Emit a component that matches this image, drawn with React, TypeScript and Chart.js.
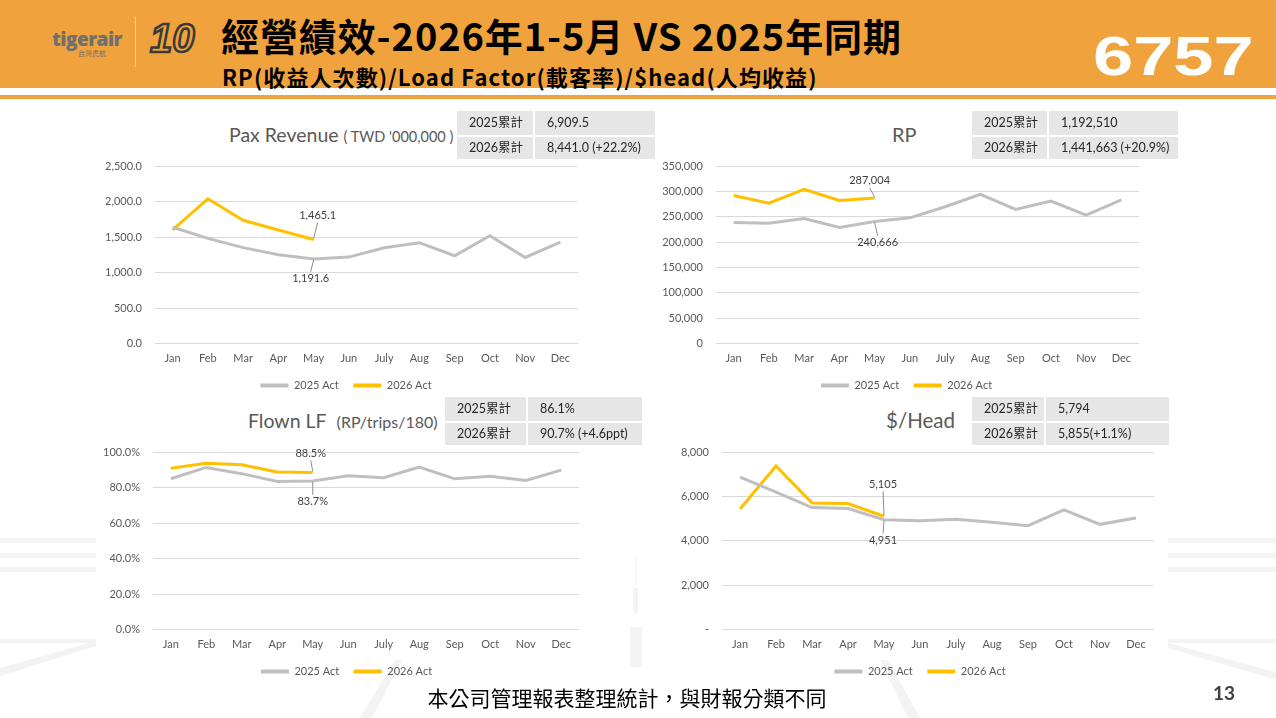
import React, { useEffect, useRef } from "react";
import { Chart, registerables } from "chart.js";

Chart.register(...registerables);

// ---------------- DATA ----------------
const months = ["Jan", "Feb", "Mar", "Apr", "May", "Jun", "July", "Aug", "Sep", "Oct", "Nov", "Dec"];
const seriesNames = ["2025 Act", "2026 Act"];

const paxRev2025 = [1637, 1481, 1350, 1250, 1191.6, 1217, 1349, 1420, 1236, 1519, 1212, 1429];
const paxRev2026 = [1600, 2038, 1736, 1599, 1465.1];

const rp2025 = [238600, 237300, 246500, 228700, 240666, 247800, 269600, 294000, 264300, 280800, 253100, 283400];
const rp2026 = [292000, 276800, 303900, 282100, 287004];

const lf2025 = [84.9, 91.3, 87.8, 83.4, 83.7, 86.6, 85.5, 91.5, 84.9, 86.3, 84.0, 89.8];
const lf2026 = [90.8, 93.6, 92.8, 88.7, 88.5];

const head2025 = [6868, 6189, 5494, 5449, 4951, 4906, 4966, 4830, 4679, 5389, 4740, 5026];
const head2026 = [5434, 7366, 5706, 5675, 5105];

const paxTable = [["2025累計", "6,909.5"], ["2026累計", "8,441.0 (+22.2%)"]];
const rpTable = [["2025累計", "1,192,510"], ["2026累計", "1,441,663 (+20.9%)"]];
const lfTable = [["2025累計", "86.1%"], ["2026累計", "90.7% (+4.6ppt)"]];
const headTable = [["2025累計", "5,794"], ["2026累計", "5,855(+1.1%)"]];

const headerTitle = "經營績效-2026年1-5月 VS 2025年同期";
const headerSubtitle = "RP(收益人次數)/Load Factor(載客率)/$head(人均收益)";
const stockCode = "6757";
const footNote = "本公司管理報表整理統計，與財報分類不同";
const pageNo = "13";

// ---------------- STYLE ----------------
const ORANGE = "#F0A33C";
const GRAY_LINE = "#BFBFBF";
const YELLOW = "#FFC000";
const TEXT_GRAY = "#595959";
const FONT = "Lato, 'Noto Sans CJK TC', sans-serif";

const fmtNum = (v: number, d = 0) =>
  v.toLocaleString("en-US", { minimumFractionDigits: d, maximumFractionDigits: d });

type LabelItem = { ds: number; idx: number; dx: number; dy: number };

type Spec = {
  left: number; top: number; width: number; height: number;
  padTop: number; padRight: number; yWidth: number; legendShift: number;
  d25: number[]; d26: number[];
  yMax: number; yStep: number;
  tickFmt: (v: number) => string;
  labelFmt: (v: number) => string;
  labels: LabelItem[];
};

const leaderPlugin = {
  id: "leaderLabels",
  afterLayout(chart: any, _args: any, opts: any) {
    const lg = chart.legend;
    if (lg && opts.legendShift) {
      lg.left += opts.legendShift;
      lg.right += opts.legendShift;
    }
  },
  afterDatasetsDraw(chart: any, _args: any, opts: any) {
    const items: LabelItem[] = opts.items || [];
    const ctx = chart.ctx;
    ctx.save();
    ctx.font = `11px ${FONT}`;
    ctx.fillStyle = "#404040";
    ctx.textAlign = "center";
    ctx.textBaseline = "middle";
    items.forEach((it) => {
      const meta = chart.getDatasetMeta(it.ds);
      const pt = meta.data[it.idx];
      if (!pt) return;
      const v = chart.data.datasets[it.ds].data[it.idx];
      const lx = pt.x + it.dx;
      const ly = pt.y + it.dy;
      const s = it.dy > 0 ? 1 : -1;
      ctx.strokeStyle = "#8C8C8C";
      ctx.lineWidth = 1;
      ctx.beginPath();
      ctx.moveTo(lx, ly - s * 7);
      ctx.lineTo(pt.x, pt.y + s * 1);
      ctx.stroke();
      ctx.fillText(opts.fmt(v), lx, ly);
    });
    ctx.restore();
  },
};

function LineChart({ spec }: { spec: Spec }) {
  const ref = useRef<HTMLCanvasElement>(null);
  useEffect(() => {
    if (!ref.current) return;
    const chart = new Chart(ref.current, {
      type: "line",
      data: {
        labels: months,
        datasets: [
          {
            label: seriesNames[0], data: spec.d25, borderColor: GRAY_LINE, backgroundColor: GRAY_LINE,
            borderWidth: 3, pointRadius: 0, tension: 0,
          },
          {
            label: seriesNames[1], data: spec.d26, borderColor: YELLOW, backgroundColor: YELLOW,
            borderWidth: 3, pointRadius: 0, tension: 0,
          },
        ],
      },
      options: {
        responsive: false,
        animation: false,
        layout: { padding: { top: spec.padTop, right: spec.padRight, left: 0, bottom: 0 } },
        scales: {
          x: {
            offset: true,
            grid: { display: false, drawTicks: false, offset: true },
            border: { display: false },
            ticks: { color: TEXT_GRAY, font: { family: FONT, size: 11 }, padding: 8, maxRotation: 0, autoSkip: false },
            afterFit: (s: any) => { s.height = 22; },
          },
          y: {
            min: 0, max: spec.yMax,
            grid: { color: "#D9D9D9", lineWidth: 1, drawTicks: false },
            border: { display: false },
            ticks: {
              stepSize: spec.yStep, color: TEXT_GRAY, font: { family: FONT, size: 11 }, padding: 13,
              callback: (v: any) => spec.tickFmt(Number(v)),
            },
            afterFit: (s: any) => { s.width = spec.yWidth; s.paddingTop = 0; s.paddingBottom = 0; },
          },
        },
        plugins: {
          legend: {
            position: "bottom",
            labels: {
              color: TEXT_GRAY, font: { family: FONT, size: 11 }, boxWidth: 28, boxHeight: 4, padding: 14.5,
              generateLabels: (c: any) =>
                (Chart.defaults.plugins.legend.labels.generateLabels as any)(c).map((l: any) => ({ ...l, lineWidth: 0 })),
            },
          },
          tooltip: { enabled: false },
          leaderLabels: { items: spec.labels, fmt: spec.labelFmt, legendShift: spec.legendShift },
        } as any,
      },
      plugins: [leaderPlugin as any],
    });
    return () => chart.destroy();
  }, []);
  return (
    <canvas
      ref={ref}
      width={spec.width}
      height={spec.height}
      style={{ position: "absolute", left: spec.left, top: spec.top, width: spec.width, height: spec.height }}
    />
  );
}

function StatTable({ rows, left, top, c1, c2 }: { rows: string[][]; left: number; top: number; c1: number; c2: number }) {
  return (
    <div style={{ position: "absolute", left, top }}>
      {rows.map((r, i) => (
        <div key={i} style={{ display: "flex", marginTop: i ? 2 : 0 }}>
          {r.map((t, j) => (
            <div
              key={j}
              style={{
                width: (j ? c2 : c1) - 12, height: i ? 22 : 24, lineHeight: (i ? 22 : 24) + "px",
                background: "#E7E6E6", marginLeft: j ? 2 : 0, paddingLeft: 12,
                fontFamily: FONT, fontSize: 12.5, color: "#262626", whiteSpace: "nowrap",
              }}
            >
              {t}
            </div>
          ))}
        </div>
      ))}
    </div>
  );
}

const specs: Spec[] = [
  {
    left: 100, top: 150, width: 490, height: 251, padTop: 16, padRight: 12, yWidth: 55, legendShift: 7,
    d25: paxRev2025, d26: paxRev2026, yMax: 2500, yStep: 500,
    tickFmt: (v) => fmtNum(v, 1), labelFmt: (v) => fmtNum(v, 1),
    labels: [{ ds: 1, idx: 4, dx: 4, dy: -24 }, { ds: 0, idx: 4, dx: -3, dy: 20 }],
  },
  {
    left: 650, top: 150, width: 500, height: 251, padTop: 16, padRight: 11, yWidth: 66, legendShift: 12,
    d25: rp2025, d26: rp2026, yMax: 350000, yStep: 50000,
    tickFmt: (v) => fmtNum(v), labelFmt: (v) => fmtNum(v),
    labels: [{ ds: 1, idx: 4, dx: -5, dy: -17 }, { ds: 0, idx: 4, dx: 3, dy: 21 }],
  },
  {
    left: 100, top: 436, width: 490, height: 251, padTop: 16, padRight: 11, yWidth: 53, legendShift: 7,
    d25: lf2025, d26: lf2026, yMax: 100, yStep: 20,
    tickFmt: (v) => v.toFixed(1) + "%", labelFmt: (v) => v.toFixed(1) + "%",
    labels: [{ ds: 1, idx: 4, dx: -2, dy: -19 }, { ds: 0, idx: 4, dx: 0, dy: 21 }],
  },
  {
    left: 650, top: 436, width: 540, height: 251, padTop: 16, padRight: 36, yWidth: 72, legendShift: 18,
    d25: head2025, d26: head2026, yMax: 8000, yStep: 2000,
    tickFmt: (v) => (v === 0 ? "-" : fmtNum(v)), labelFmt: (v) => fmtNum(v),
    labels: [{ ds: 1, idx: 4, dx: -1, dy: -32 }, { ds: 0, idx: 4, dx: -1, dy: 21 }],
  },
];

function Decor() {
  const c = "#F3F3F3";
  return (
    <svg width={1276} height={718} style={{ position: "absolute", left: 0, top: 0 }}>
      {[538, 553, 567].map((y) => (
        <g key={y}>
          <rect x={0} y={y} width={96} height={5} fill={c} />
          <rect x={1168} y={y} width={108} height={5} fill={c} />
        </g>
      ))}
      <rect x={0} y={639} width={96} height={4} fill={c} />
      <polygon points="0,668 96,641 96,646 0,676" fill={c} />
      <rect x={1168} y={639} width={108} height={4} fill={c} />
      <polygon points="1168,643 1276,672 1276,680 1168,648" fill={c} />
      <rect x={635} y={555} width={1.5} height={30} fill={c} />
      <rect x={633} y={588} width={5} height={25} fill={c} />
      <rect x={630} y={627} width={12} height={40} fill={c} />
      <polygon points="360,718 395,660 402,660 372,718" fill={c} />
      <polygon points="880,660 888,660 920,718 908,718" fill={c} />
    </svg>
  );
}

export default function App() {
  return (
    <div style={{ position: "absolute", left: 0, top: 0, width: 1276, height: 718, overflow: "hidden", background: "#fff" }}>
      <Decor />
      {/* header */}
      <div style={{ position: "absolute", left: 0, top: 0, width: 1276, height: 88, background: ORANGE }} />
      <div style={{ position: "absolute", left: 0, top: 95, width: 1276, height: 4, background: ORANGE }} />
      <div style={{ position: "absolute", left: 52, top: 26, fontFamily: "'Open Sans', sans-serif", fontWeight: 800, fontSize: 19, color: "#6F6F6F", letterSpacing: -0.5 }}>
        tigerair
      </div>
      <div style={{ position: "absolute", left: 78, top: 48, fontFamily: "'Noto Sans CJK TC'", fontSize: 7, color: "#6F6F6F" }}>台灣虎航</div>
      <div style={{ position: "absolute", left: 135, top: 17, width: 1, height: 50, background: "#F7D3A0" }} />
      <div style={{ position: "absolute", left: 150, top: 16, fontFamily: "'Liberation Sans', sans-serif", fontStyle: "italic", fontWeight: 900, fontSize: 40, color: "transparent", WebkitTextStroke: "2.5px #3A3A3A" } as any}>
        10
      </div>
      <div style={{ position: "absolute", left: 221, top: 8, fontFamily: "'Noto Sans CJK TC'", fontWeight: 700, fontSize: 38, letterSpacing: 0.9, color: "#000", whiteSpace: "nowrap", lineHeight: "54px" }}>
        {headerTitle}
      </div>
      <div style={{ position: "absolute", left: 222, top: 60, fontFamily: "'Noto Sans CJK TC'", fontWeight: 700, fontSize: 22, letterSpacing: 1.1, color: "#000", whiteSpace: "nowrap", lineHeight: "32px" }}>
        {headerSubtitle}
      </div>
      <div style={{ position: "absolute", left: 1093, top: 18, width: 124, fontFamily: "'Liberation Sans', Arial, sans-serif", fontWeight: 700, fontSize: 56, color: "#fff", lineHeight: "76px", transform: "scaleX(1.29)", transformOrigin: "left center" }}>
        {stockCode}
      </div>

      {/* titles */}
      <div style={{ position: "absolute", left: 229, top: 122, fontFamily: FONT, color: TEXT_GRAY, whiteSpace: "nowrap", lineHeight: "26px" }}>
        <span style={{ fontSize: 19.5 }}>Pax Revenue</span>
        <span style={{ fontSize: 14.5, marginLeft: 5 }}>( TWD '000,000 )</span>
      </div>
      <div style={{ position: "absolute", left: 892, top: 121, fontFamily: FONT, color: TEXT_GRAY, fontSize: 20, lineHeight: "26px" }}>RP</div>
      <div style={{ position: "absolute", left: 248, top: 408, fontFamily: FONT, color: TEXT_GRAY, whiteSpace: "nowrap", lineHeight: "26px" }}>
        <span style={{ fontSize: 19.5 }}>Flown LF</span>
        <span style={{ fontSize: 16, marginLeft: 10 }}>(RP/trips/180)</span>
      </div>
      <div style={{ position: "absolute", left: 886, top: 407, fontFamily: FONT, color: TEXT_GRAY, fontSize: 20.5, lineHeight: "26px" }}>$/Head</div>

      {specs.map((s, i) => <LineChart key={i} spec={s} />)}

      <StatTable rows={paxTable} left={457} top={111} c1={76} c2={120} />
      <StatTable rows={rpTable} left={972} top={111} c1={75} c2={129} />
      <StatTable rows={lfTable} left={445} top={397} c1={81} c2={114} />
      <StatTable rows={headTable} left={972} top={397} c1={72} c2={123} />

      <div style={{ position: "absolute", left: 0, width: 1254, top: 683, textAlign: "center", fontFamily: "'Noto Sans CJK TC'", fontSize: 21, color: "#000", lineHeight: "28px" }}>
        {footNote}
      </div>
      <div style={{ position: "absolute", left: 1213, top: 680, fontFamily: FONT, fontWeight: 700, fontSize: 19, color: "#404040", lineHeight: "26px" }}>
        {pageNo}
      </div>
    </div>
  );
}
